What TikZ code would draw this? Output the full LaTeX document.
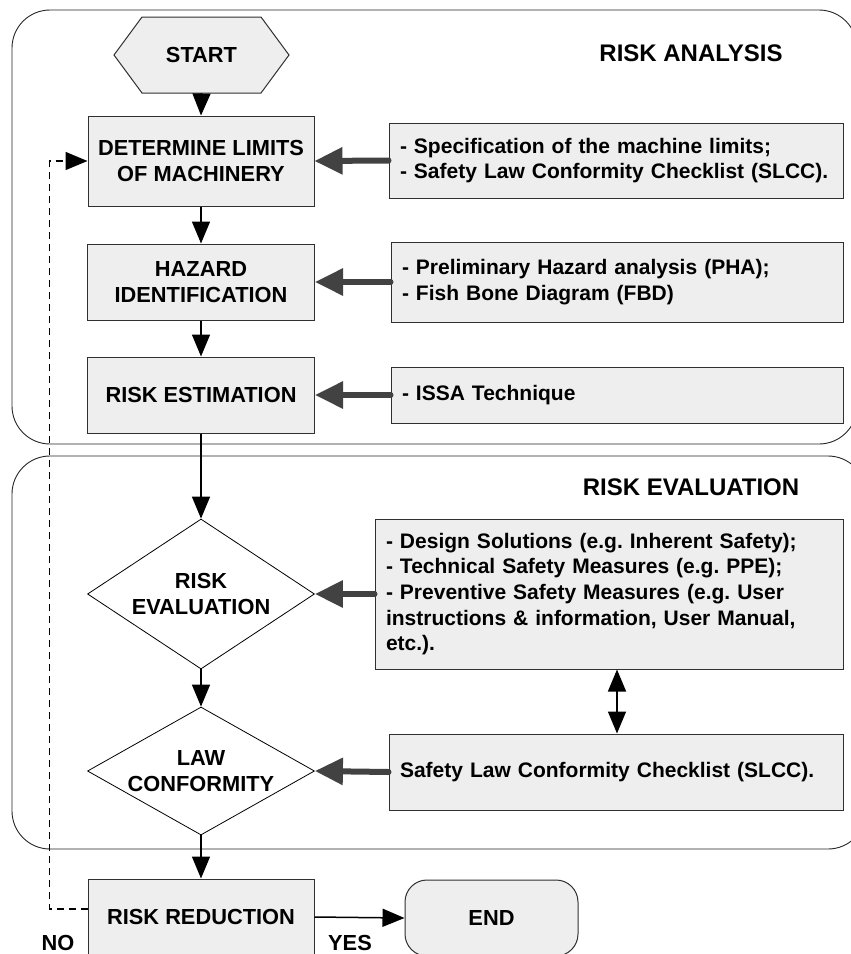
\documentclass[tikz,border=0pt]{standalone}
\usepackage{fontspec}
\setmainfont{Liberation Sans}
\usetikzlibrary{arrows.meta,shapes.geometric}
\definecolor{boxfill}{HTML}{EEEEEE}
\definecolor{feedgray}{HTML}{424242}
\definecolor{edgegray}{HTML}{303030}
\frenchspacing
\tikzset{
 stepbox/.style={draw=edgegray, fill=boxfill, line width=1pt, inner sep=0pt, align=center,
   font=\fontsize{21.8}{26}\selectfont\bfseries},
 infobox/.style={draw=edgegray, fill=boxfill, line width=1pt, inner xsep=11pt, inner ysep=0pt, align=left,
   font=\fontsize{21}{25.6}\selectfont\bfseries},
 decbox/.style={diamond, draw=black, fill=white, line width=0.8pt, inner sep=0pt, align=center,
   font=\fontsize{21.8}{26}\selectfont\bfseries},
 flow/.style={line width=1.5pt, -{Triangle[length=22pt,width=18pt]}},
 feed/.style={line width=6pt, draw=feedgray, line cap=round, -{Triangle[length=28pt,width=26pt]}},
 region/.style={draw=black!85, line width=0.9pt, rounded corners=38pt},
 title/.style={font=\fontsize{24}{28}\selectfont\bfseries},
 lbl/.style={font=\fontsize{21.8}{22}\selectfont\bfseries, inner sep=0pt, text depth=0pt},
}
\begin{document}
\begin{tikzpicture}[x=1pt,y=-1pt]
\useasboundingbox (0,0) rectangle (851,954);
\clip (0,0) rectangle (851,954);
% regions
\draw[region] (12,10) rectangle (857,444);
\draw[region] (12,456) rectangle (866,849);
\node[title] (tana) at (691,53) {RISK ANALYSIS};
\node[title] (teva) at (691,487) {RISK EVALUATION};
% start hexagon
\draw[draw=edgegray, fill=boxfill, line width=1pt] (114,55) -- (142,17) -- (261,17) -- (289,55) -- (261,93) -- (142,93) -- cycle;
\node[font=\fontsize{21.8}{26}\selectfont\bfseries, minimum width=175pt, minimum height=76pt, inner sep=0pt] (start) at (201.5,55) {START};
% left column
\node[stepbox, minimum width=226pt, minimum height=90pt] (det) at (201,161) {DETERMINE LIMITS\\OF MACHINERY};
\node[stepbox, minimum width=227pt, minimum height=76pt] (haz) at (201,282) {HAZARD\\IDENTIFICATION};
\node[stepbox, minimum width=227pt, minimum height=76pt] (est) at (201,395) {RISK ESTIMATION};
\node[decbox, aspect=1.5, minimum width=227pt, minimum height=150pt] (eva) at (201,594) {RISK\\EVALUATION};
\node[decbox, aspect=1.77, minimum width=227pt, minimum height=128pt] (law) at (201,771) {LAW\\CONFORMITY};
\node[stepbox, minimum width=226pt, minimum height=76pt] (red) at (201,917) {RISK REDUCTION};
\node[stepbox, rounded corners=22pt, minimum width=173pt, minimum height=76pt] (fin) at (491.5,918) {END};
% right column
\node[infobox, text width=432pt, minimum height=75pt] (spec) at (616,160.5) {- Specification of the machine limits;\\- Safety Law Conformity Checklist (SLCC).};
\node[infobox, text width=430pt, minimum height=80pt] (pha) at (617,282) {- Preliminary Hazard analysis (PHA);\\- Fish Bone Diagram (FBD)};
\node[infobox, text width=430pt, minimum height=56pt] (issa) at (617,395) {- ISSA Technique};
\node[infobox, text width=446pt, minimum height=150pt] (des) at (609,594) {- Design Solutions (e.g. Inherent Safety);\\- Technical Safety Measures (e.g. PPE);\\- Preventive Safety Measures (e.g. User instructions \& information, User Manual, etc.).};
\node[infobox, text width=432pt, minimum height=76pt] (slcc) at (616,772) {Safety Law Conformity Checklist (SLCC).};
% labels
\node[lbl] (yes) at (350,943) {YES};
\node[lbl] (no) at (58,943) {NO};
% flow arrows
\draw[flow] (start.south) -- (det.north);
\draw[flow] (det.south) -- (haz.north);
\draw[flow] (haz.south) -- (est.north);
\draw[flow] (est.south) -- (eva.north);
\draw[flow] (eva.south) -- (law.north);
\draw[flow] (law.south) -- (red.north);
\draw[flow] (red.east) -- (fin.west);
\draw[line width=1.5pt, {Triangle[length=22pt,width=18pt]}-{Triangle[length=22pt,width=18pt]}] (slcc.north -| 617,0) -- (des.south -| 617,0);
% feed arrows
\draw[feed] (spec.west) -- (det.east);
\draw[feed] (pha.west) -- (haz.east);
\draw[feed] (issa.west) -- (est.east);
\draw[feed] (des.west) -- (eva.east);
\draw[feed] (slcc.west) -- (law.east);
% NO loop
\draw[line width=1.5pt, dash pattern=on 7pt off 5pt, -{Triangle[length=22pt,width=18pt]}] ([yshift=8pt]red.west) -- ++(-38,0) |- (det.west);
\end{tikzpicture}
\end{document}
